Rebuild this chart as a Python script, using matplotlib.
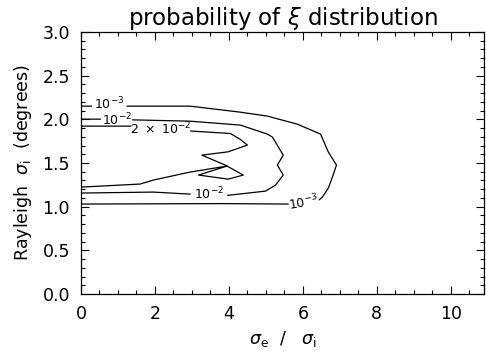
import matplotlib
matplotlib.use("Agg")
import matplotlib.pyplot as plt
from matplotlib.ticker import MultipleLocator
import numpy as np

# contour paths (None = gap left for the inline label)
c1e3_x = [0.0, 0.28, None, 1.25, 2.95, 4.31, 5.04, 5.85, 6.48, 6.69, 6.91, 6.80, 6.69, 6.53, 6.45,
          None, 5.60, 3.80, 0.0]
c1e3_y = [2.151, 2.151, None, 2.151, 2.151, 2.082, 2.037, 1.945, 1.831, 1.625, 1.476, 1.339, 1.213, 1.110, 1.080,
          None, 1.030, 1.035, 1.030]

c1e2_x = [0.0, 0.52, None, 1.40, 2.95, 4.31, 5.04, 5.18, 5.47, 5.31, 5.47, 5.26, 4.99, 4.04, 3.97,
          None, 2.95, 1.95, 0.0]
c1e2_y = [2.002, 2.002, None, 1.994, 1.979, 1.934, 1.831, 1.796, 1.590, 1.476, 1.362, 1.247, 1.178, 1.133, 1.130,
          None, 1.144, 1.167, 1.156]

c2e2_x = [0.0, 1.35, None, 2.97, 4.04, 4.31, 4.50, 3.98, 3.27, 3.90, 4.39, 3.98, 3.18, 3.95, 2.95, 1.95, 1.60, 0.0]
c2e2_y = [1.922, 1.922, None, 1.866, 1.838, 1.770, 1.705, 1.628, 1.590, 1.476, 1.362, 1.315, 1.362, 1.465,
          1.396, 1.304, 1.259, 1.224]

# inline labels: text, x, y, rotation
labels = [
    (r"$10^{-3}$", 0.76, 2.175, 0),
    (r"$10^{-2}$", 0.96, 1.990, 0),
    (r"$2\ \times\ 10^{-2}$", 2.16, 1.890, 0),
    (r"$10^{-2}$", 3.46, 1.140, 0),
    (r"$10^{-3}$", 6.02, 1.050, 10),
]


def to_arr(v):
    return np.array([np.nan if a is None else a for a in v], dtype=float)


plt.rcParams["font.family"] = "DejaVu Sans"
plt.rcParams["mathtext.fontset"] = "dejavusans"

fig = plt.figure(figsize=(4.86, 3.51), dpi=100)
ax = fig.add_axes([81 / 486, 57 / 351, 403 / 486, 262 / 351])

for xs, ys in [(c1e3_x, c1e3_y), (c1e2_x, c1e2_y), (c2e2_x, c2e2_y)]:
    ax.plot(to_arr(xs), to_arr(ys), color="black", lw=0.9)

for txt, x, y, rot in labels:
    ax.text(x, y, txt, fontsize=9, ha="center", va="center", rotation=rot)

ax.set_xlim(0, 10.9)
ax.set_ylim(0, 3.0)
ax.xaxis.set_major_locator(MultipleLocator(2))
ax.xaxis.set_minor_locator(MultipleLocator(0.5))
ax.yaxis.set_major_locator(MultipleLocator(0.5))
ax.yaxis.set_minor_locator(MultipleLocator(0.1))
ax.yaxis.set_major_formatter(plt.FormatStrFormatter("%.1f"))
ax.tick_params(which="both", direction="in", top=True, right=True, labelsize=12.5, width=0.8)
ax.tick_params(which="major", length=6, pad=8)
ax.tick_params(which="minor", length=3)
for s in ax.spines.values():
    s.set_linewidth(0.9)

ax.set_xlabel(r"$\sigma_{\rm e}$  /   $\sigma_{\rm i}$", fontsize=12.5, labelpad=4)
ax.set_ylabel(r"Rayleigh  $\sigma_{\rm i}$  (degrees)", fontsize=12.5, labelpad=6)
ax.set_title(r"probability of $\xi$ distribution", fontsize=16.5, pad=5)

fig.savefig("out.png", dpi=100)
